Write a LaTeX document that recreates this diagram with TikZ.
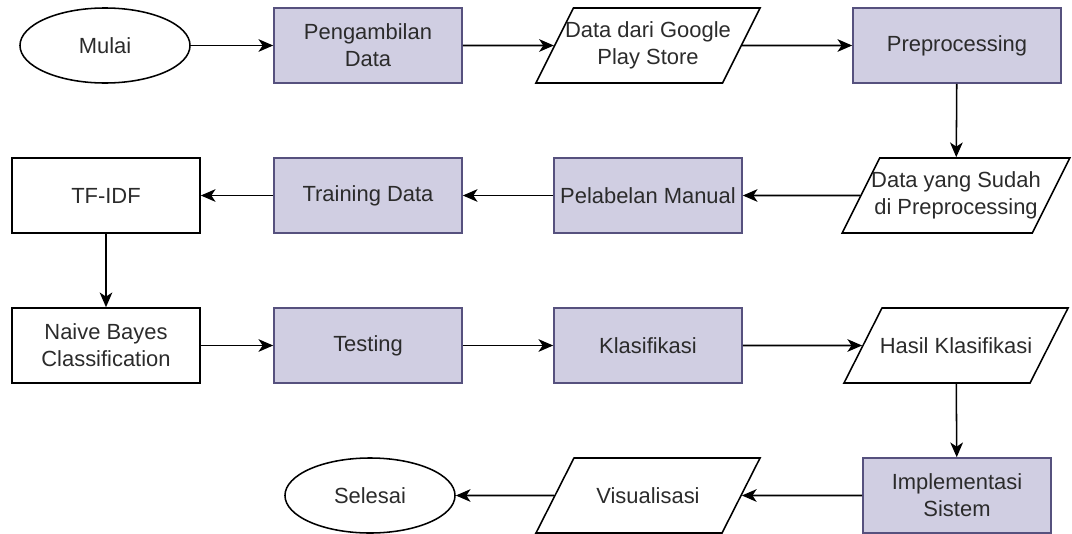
\documentclass[tikz,border=0pt]{standalone}
\usepackage{fontspec}
\setmainfont{Liberation Sans}
\usepackage{tikz}
\usetikzlibrary{graphs, shapes.geometric, arrows.meta}

\definecolor{procfill}{HTML}{D0CEE2}
\definecolor{procline}{HTML}{56517E}
\definecolor{txt}{HTML}{2B2B2B}

\tikzset{
    base/.style={minimum height=1.875cm, inner sep=0pt, align=center, text=txt,
        font=\fontsize{15.6}{19}\selectfont, line width=1.1pt},
    terminal/.style={base, draw=black, ellipse, minimum width=4.25cm},
    process/.style={base, draw=procline, fill=procfill, minimum width=4.7cm},
    plainbox/.style={base, draw=black, minimum width=4.7cm},
    % the slant follows the natural height, so inner ysep pads it to full size
    io/.style={base, draw=black, trapezium, trapezium left angle=63, trapezium right angle=117,
        trapezium stretches body, minimum width=5.6cm, inner ysep=9.4pt, inner xsep=-6pt},
    io1/.style={io, inner ysep=20.8pt},
    arr/.style={line width=1.1pt, -{Stealth[length=10.5pt, width=9pt, inset=3pt]}}
}

\begin{document}
\begin{tikzpicture}[x=0.025cm, y=-0.025cm]
            \useasboundingbox (0,0) rectangle (1072,533);

            % baris atas
            \node[terminal] (mulai) at (105, 45.5) {Mulai};
            \node[process] (ambil) at (368, 45.5) {Pengambilan\\Data};
            \node[io] (gps) at (648, 45.5) {Data dari Google\\Play Store};
            \node[process, minimum width=5.2cm] (prep) at (957, 45.5) {Preprocessing};

            % baris kedua
            \node[plainbox] (tfidf) at (106, 195.5) {TF-IDF};
            \node[process] (train) at (368, 195.5) {Training Data};
            \node[process] (label) at (648, 195.5) {Pelabelan Manual};
            \node[io] (dataprep) at (956, 195.5) {Data yang Sudah\\di Preprocessing};

            % baris ketiga
            \node[plainbox] (nbc) at (106, 345.5) {Naive Bayes\\Classification};
            \node[process] (test) at (368, 345.5) {Testing};
            \node[process] (klas) at (648, 345.5) {Klasifikasi};
            \node[io1] (hasil) at (956, 345.5) {Hasil Klasifikasi};

            % baris bawah
            \node[terminal] (selesai) at (370, 495.5) {Selesai};
            \node[io1] (vis) at (648, 495.5) {Visualisasi};
            \node[process] (impl) at (957, 495.5) {Implementasi\\Sistem};

            \graph[use existing nodes, edges={arr}] {
            mulai -> ambil -> gps -> prep -> dataprep -> label -> train -> tfidf;
            tfidf -> nbc -> test -> klas -> hasil -> impl -> vis -> selesai;
%            hasil -> selesai;
            };

        \end{tikzpicture}
\end{document}
